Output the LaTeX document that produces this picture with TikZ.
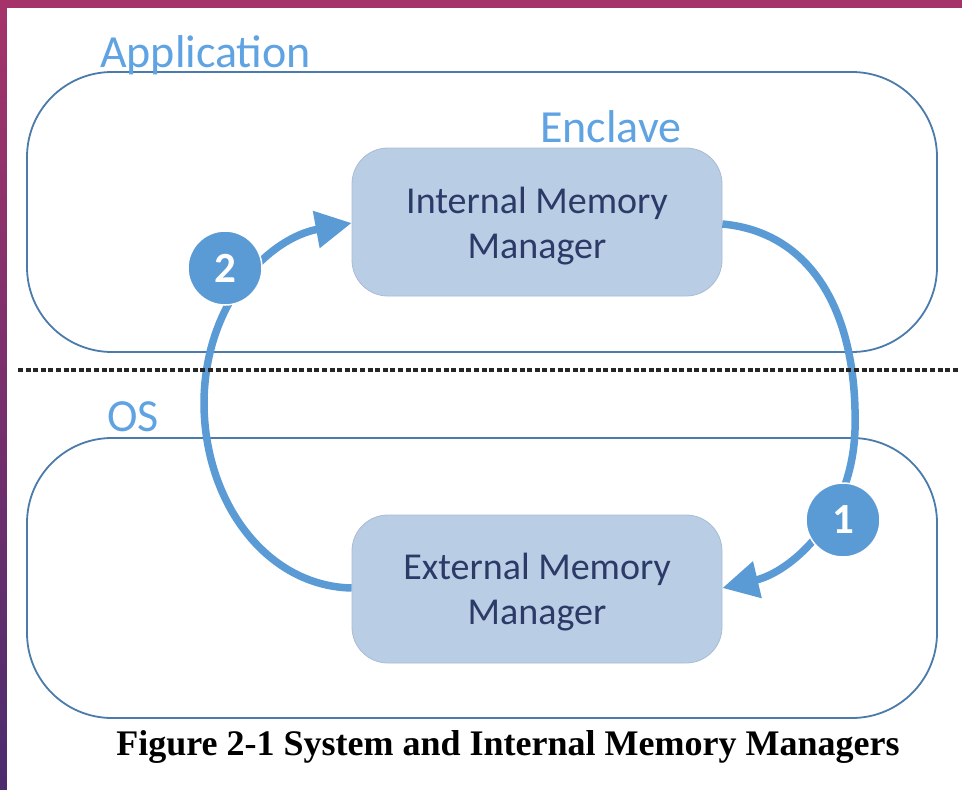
\documentclass[tikz,border=0pt]{standalone}
\usepackage{fontspec}
\setmainfont{Carlito}
\newfontfamily\captionfont{Liberation Serif}
\usetikzlibrary{arrows.meta,shadings}

\definecolor{framemag}{HTML}{A5336A}
\definecolor{framepur}{HTML}{4B2C6E}
\definecolor{zoneline}{HTML}{4A7BAA}
\definecolor{zonelabel}{HTML}{5FA3E2}
\definecolor{mgrfill}{HTML}{B9CDE5}
\definecolor{mgredge}{HTML}{A9BCD6}
\definecolor{mgrtext}{HTML}{2B3A67}
\definecolor{flow}{HTML}{5B9BD5}

\tikzset{
  zonebox/.style={draw=zoneline, line width=1.8pt, rounded corners=85pt,
    minimum width=910pt, minimum height=280pt, inner sep=0pt},
  zonelabel/.style={text=zonelabel, font=\fontsize{46}{50}\selectfont,
    anchor=base west, inner sep=0pt},
  mgrbox/.style={fill=mgrfill, draw=mgredge, line width=0.8pt,
    rounded corners=36pt, minimum width=370pt, minimum height=148pt,
    text=mgrtext, align=center, font=\fontsize{38}{45}\selectfont},
  mgrtext/.style={text=mgrtext, align=center, inner sep=0pt,
    font=\fontsize{38}{45}\selectfont},
  flowline/.style={draw=flow, line width=7.5pt,
    -{Triangle[length=36pt,width=36pt]}},
  stepmark/.style={circle, fill=flow, draw=white, line width=1.5pt,
    minimum size=74pt, inner sep=0pt, text=white,
    font=\fontsize{43}{43}\selectfont\bfseries},
  separator/.style={draw=black!85, line width=3.5pt,
    dash pattern=on 5pt off 2.6pt}
}

\begin{document}
\begin{tikzpicture}[x=1pt,y=-1pt]
  \useasboundingbox (0,0) rectangle (962,790);

  % slide frame behind the figure
  \shade[top color=framemag, bottom color=framepur] (0,0) rectangle (962,790);
  \fill[framemag] (0,0) rectangle (962,8);
  \fill[white] (7,8) rectangle (962,790);

  % protection domains
  \node[zonebox] (app) at (482,212) {};
  \node[zonebox] (os)  at (482,578) {};
  \node[zonelabel] (applbl) at (100,67) {Application};
  \node[zonelabel] (enclbl) at (540,142) {Enclave};
  \node[zonelabel] (oslbl)  at (107,431) {OS};

  % memory managers
  \node[mgrbox] (imm) at (537,222) {};
  \node[mgrtext] (immtxt) at (537,226) {Internal Memory\\Manager};
  \node[mgrbox] (emm) at (537,589) {};
  \node[mgrtext] (emmtxt) at (537,592) {External Memory\\Manager};

  % hand-over points on the flows
  \coordinate (rightmid) at (855,430);
  \coordinate (leftmid)  at (204,400);

  % flow 1: internal -> external
  \path[flowline] (imm.east |- 0,224)
    .. controls (810,232) and (858,310) .. (rightmid)
    .. controls (852,520) and (790,572) .. (emm.east |- 0,588);

  % flow 2: external -> internal
  \path[flowline] (emm.west |- 0,588)
    .. controls (265,586) and (203,500) .. (leftmid)
    .. controls (206,300) and (270,238) .. (imm.west |- 0,223);

  % user / kernel boundary
  \draw[separator] (18,370) coordinate (sepL) -- (958,370) coordinate (sepR);

  % step markers
  \node[stepmark] (s1) at (843,520) {1};
  \node[stepmark] (s2) at (225,268) {2};

  % caption
  \node[font=\captionfont\bfseries\fontsize{36}{40}\selectfont,
        anchor=base, inner sep=0pt] (cap) at (508,755)
        {Figure 2-1 System and Internal Memory Managers};
\end{tikzpicture}
\end{document}
